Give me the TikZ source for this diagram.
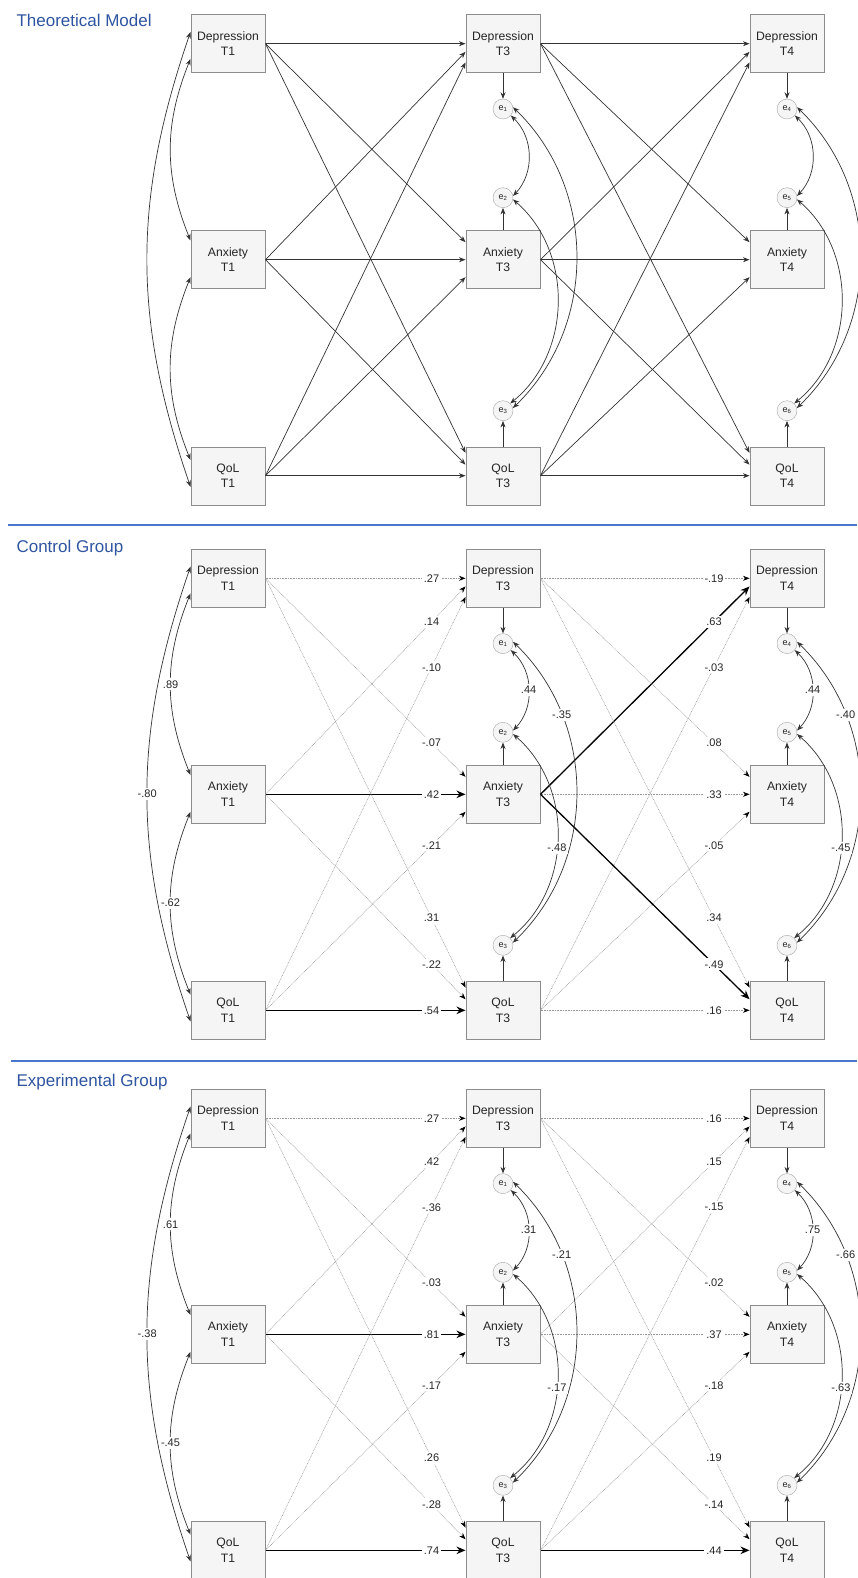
\documentclass[tikz,border=0pt]{standalone}
\usepackage{fontspec}
\setmainfont{Liberation Sans}
\usetikzlibrary{arrows.meta,calc}

\definecolor{grpblue}{RGB}{47,85,160}
\definecolor{ruleblue}{RGB}{72,118,204}
\definecolor{boxfill}{RGB}{245,245,245}

\tikzset{
  var/.style={draw=black!45, fill=boxfill, minimum width=74.6pt, minimum height=58pt,
    inner sep=0pt, align=center, text=black!85, font=\fontsize{12.2}{15.5}\selectfont},
  err/.style={circle, draw=black!35, fill=boxfill, minimum size=20pt, inner sep=0pt,
    text=black!85, font=\fontsize{9}{9}\selectfont},
  arc/.style={-{Stealth[length=6.5pt,width=5pt]}, black!80, line width=.7pt},
  ns/.style={-{Stealth[length=6.5pt,width=5pt,color=black]}, black!40, line width=.55pt,
    dash pattern=on .8pt off .8pt},
  sig/.style={-{Stealth[length=9pt,width=7.5pt]}, black, line width=1.3pt},
  cov/.style={{Stealth[length=6.5pt,width=5pt]}-{Stealth[length=6.5pt,width=5pt]},
    black!80, line width=.7pt},
  coef/.style={fill=white, inner sep=2pt, pos=.83, text=black!85, font=\fontsize{11}{11}\selectfont},
  grp/.style={anchor=base west, text=grpblue, font=\fontsize{17}{17}\selectfont},
  rule/.style={ruleblue, line width=1.8pt},
}

% boxes, error terms and ports of one group; #1 name prefix, #2 y of the Depression row
\newcommand\grpnodes[2]{%
  \foreach \c/\x in {1/228,3/503,4/787}{
    \node[var] (#1D\c) at (\x,#2)     {Depression\\T\c};
    \node[var] (#1A\c) at (\x,#2-216) {Anxiety\\T\c};
    \node[var] (#1Q\c) at (\x,#2-432) {QoL\\T\c};
  }
  \foreach \c/\x/\i/\j/\k in {3/503/1/2/3,4/787/4/5/6}{
    \node[err] (#1e\i) at (\x,#2-65.3) {e\textsubscript{\i}};
    \node[err] (#1e\j) at (\x,#2-154)  {e\textsubscript{\j}};
    \node[err] (#1e\k) at (\x,#2-367)  {e\textsubscript{\k}};
    \draw[arc] (#1D\c) -- (#1e\i);
    \draw[arc] (#1A\c) -- (#1e\j);
    \draw[arc] (#1Q\c) -- (#1e\k);
  }
  \coordinate (#1Do) at ($(#1D1.north west)!.3!(#1D1.south west)$);
  \coordinate (#1Di) at ($(#1D1.north west)!.76!(#1D1.south west)$);
  \coordinate (#1Au) at ($(#1A1.north west)!.17!(#1A1.south west)$);
  \coordinate (#1Al) at ($(#1A1.north west)!.8!(#1A1.south west)$);
  \coordinate (#1Qu) at ($(#1Q1.north west)!.23!(#1Q1.south west)$);
  \coordinate (#1Ql) at ($(#1Q1.north west)!.69!(#1Q1.south west)$);
}

% cross-lagged paths T1->T3 and T3->T4
\newcommand\grppaths[2]{%
  \foreach \src/\tgt/\fr/\sa/\la/\sb/\lb in {#2}{
    \draw[\sa] (#1\src1.east) -- ($(#1\tgt3.north west)!\fr!(#1\tgt3.south west)$) node[coef]{\la};
    \draw[\sb] (#1\src3.east) -- ($(#1\tgt4.north west)!\fr!(#1\tgt4.south west)$) node[coef]{\lb};
  }
}

% covariances: DQ, DA, AQ, e1e2, e1e3, e2e3, e4e5, e4e6, e5e6
\newcommand\grpcovs[2]{%
  \foreach \la/\lb/\lc/\ld/\le/\lf/\lg/\lh/\li in {#2}{
    \draw[cov] (#1Do) to[bend right=19] node[coef,pos=.5]{\la} (#1Ql);
    \draw[cov] (#1Di) to[bend right=22] node[coef,pos=.5]{\lb} (#1Au);
    \draw[cov] (#1Al) to[bend right=22] node[coef,pos=.5]{\lc} (#1Qu);
    \foreach \i/\j/\k/\p/\q/\r in {1/2/3/\ld/\le/\lf,4/5/6/\lg/\lh/\li}{
      \draw[cov] (#1e\i.-40) to[bend left=45] node[coef,pos=.5]{\p} (#1e\j.10);
      \draw[cov] (#1e\i.10) to[bend left=46] node[coef,pos=.26]{\q} (#1e\k.15);
      \draw[cov] (#1e\j.-10) to[bend left=50] node[coef,pos=.55]{\r} (#1e\k.45);
    }
  }
}

\begin{document}
\begin{tikzpicture}[x=1pt,y=1pt]
\useasboundingbox (0,0) rectangle (857,-1578);

% theoretical model
\node[grp] (ttl) at (13,-26.7) {Theoretical Model};
\grpnodes{t}{-43.7}
\begin{scope}[coef/.append style={fill=none}]
\grppaths{t}{D/D/.5/arc//arc/, A/D/.64/arc//arc/, Q/D/.82/arc//arc/,
  D/A/.2/arc//arc/, A/A/.5/arc//arc/, Q/A/.8/arc//arc/,
  D/Q/.11/arc//arc/, A/Q/.31/arc//arc/, Q/Q/.5/arc//arc/}
\grpcovs{t}{////////}
\end{scope}

\draw[rule] (8,-524.7) -- (857,-524.7);

% control group
\node[grp] (ctl) at (13,-552.3) {Control Group};
\grpnodes{c}{-578.3}
\grppaths{c}{D/D/.5/ns/.27/ns/-.19, A/D/.64/ns/.14/sig/.63, Q/D/.82/ns/-.10/ns/-.03,
  D/A/.2/ns/-.07/ns/.08, A/A/.5/sig/.42/ns/.33, Q/A/.8/ns/-.21/ns/-.05,
  D/Q/.11/ns/.31/ns/.34, A/Q/.31/ns/-.22/sig/-.49, Q/Q/.5/sig/.54/ns/.16}
\grpcovs{c}{-.80/.89/-.62/.44/-.35/-.48/.44/-.40/-.45}

\draw[rule] (11,-1061) -- (857,-1061);

% experimental group
\node[grp] (xtl) at (13,-1086.7) {Experimental Group};
\grpnodes{x}{-1118.3}
\grppaths{x}{D/D/.5/ns/.27/ns/.16, A/D/.64/ns/.42/ns/.15, Q/D/.82/ns/-.36/ns/-.15,
  D/A/.2/ns/-.03/ns/-.02, A/A/.5/sig/.81/ns/.37, Q/A/.8/ns/-.17/ns/-.18,
  D/Q/.11/ns/.26/ns/.19, A/Q/.31/ns/-.28/ns/-.14, Q/Q/.5/sig/.74/sig/.44}
\grpcovs{x}{-.38/.61/-.45/.31/-.21/-.17/.75/-.66/-.63}
\end{tikzpicture}
\end{document}
